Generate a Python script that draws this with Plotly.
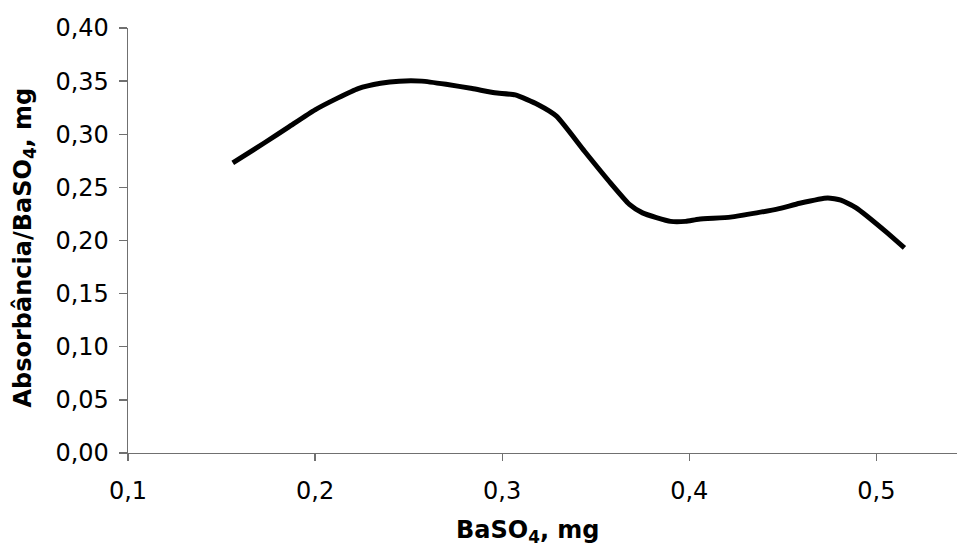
import plotly.graph_objects as go

# Data
baso4_mg = [0.156, 0.173, 0.186, 0.200, 0.212, 0.223, 0.235, 0.245, 0.257, 0.270,
            0.284, 0.296, 0.307, 0.319, 0.329, 0.344, 0.357, 0.368, 0.375, 0.390,
            0.398, 0.405, 0.422, 0.436, 0.448, 0.459, 0.474, 0.481, 0.489, 0.506, 0.515]
absorb_per_mg = [0.273, 0.292, 0.307, 0.323, 0.334, 0.343, 0.348, 0.350, 0.350, 0.347,
                 0.343, 0.339, 0.337, 0.328, 0.317, 0.284, 0.256, 0.234, 0.226, 0.218,
                 0.218, 0.220, 0.222, 0.226, 0.230, 0.235, 0.240, 0.238, 0.231, 0.207, 0.193]

x_ticks = [0.1, 0.2, 0.3, 0.4, 0.5]
y_ticks = [0.00, 0.05, 0.10, 0.15, 0.20, 0.25, 0.30, 0.35, 0.40]

fig = go.Figure()
fig.add_trace(go.Scatter(
    x=baso4_mg, y=absorb_per_mg, mode="lines",
    line=dict(color="black", width=5, shape="spline", smoothing=0.5),
    showlegend=False, hoverinfo="skip",
))

axis_color = "#707070"
font_family = "DejaVu Sans, Arial, sans-serif"

fig.update_layout(
    width=957, height=547,
    margin=dict(l=128, r=0, t=28, b=94),
    paper_bgcolor="white", plot_bgcolor="white",
    separators=", ",
    font=dict(family=font_family, color="black"),
    xaxis=dict(
        range=[0.1, 0.5431], tickvals=x_ticks, tickformat=".1f",
        showline=True, linecolor=axis_color, linewidth=1.3,
        ticks="outside", ticklen=7, tickcolor=axis_color, tickwidth=1.3,
        showgrid=False, zeroline=False,
        tickfont=dict(size=24, family=font_family, color="black"),
        ticklabelstandoff=9,
    ),
    yaxis=dict(
        range=[0, 0.40], tickvals=y_ticks, tickformat=".2f",
        showline=True, linecolor=axis_color, linewidth=1.3,
        ticks="outside", ticklen=8, tickcolor=axis_color, tickwidth=1.3,
        showgrid=False, zeroline=False,
        tickfont=dict(size=24, family=font_family, color="black"),
        ticklabelstandoff=5,
    ),
    annotations=[
        dict(text="<b>BaSO<sub>4</sub>, mg</b>", xref="paper", yref="paper",
             x=0.5, y=0, xanchor="center", yanchor="middle",
             xshift=528 - (128 + 957) / 2, yshift=-(531 - 453),
             showarrow=False, font=dict(size=24, family=font_family, color="black")),
        dict(text="<b>Absorbância/BaSO<sub>4</sub>, mg</b>", xref="paper", yref="paper",
             x=0, y=0.5, xanchor="center", yanchor="middle", textangle=-90,
             xshift=-(128 - 24), yshift=-7,
             showarrow=False, font=dict(size=24, family=font_family, color="black")),
    ],
)

fig.write_html("out.html", config={"displayModeBar": False, "staticPlot": True},
               post_script="document.body.style.margin='0';document.body.style.padding='0';")
